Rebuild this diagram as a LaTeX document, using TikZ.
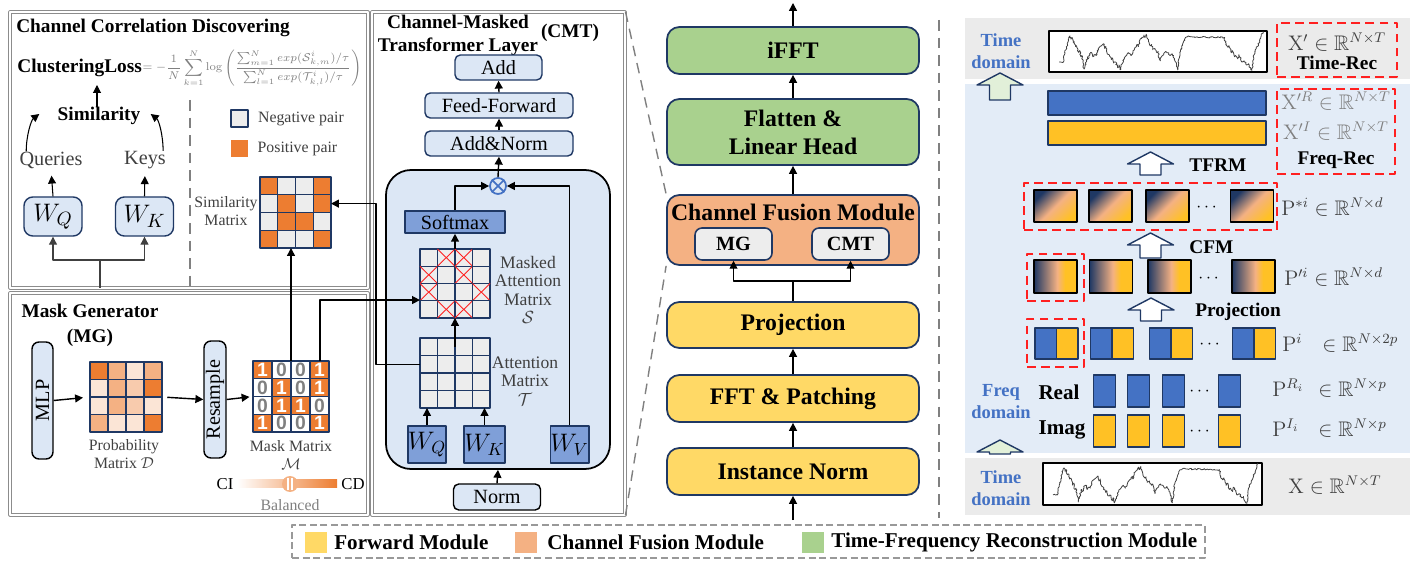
\documentclass[tikz,border=0pt]{standalone}
\usepackage[no-math]{fontspec}
\setmainfont{Liberation Serif}
\setsansfont{Liberation Sans}
\usepackage{amsmath,amssymb}
\definecolor{fmNavy}{HTML}{1F3864}
\definecolor{fmLBlue}{HTML}{DCE7F5}
\definecolor{fmDBlue}{HTML}{7F9FD8}
\definecolor{fmOrange}{HTML}{ED7D31}
\definecolor{fmPeach}{HTML}{F4B183}
\definecolor{fmPeachL}{HTML}{F8CBAD}
\definecolor{fmPeachXL}{HTML}{FBE5D6}
\definecolor{fmCell}{HTML}{EDEDED}
\definecolor{fmGreen}{HTML}{A9D18E}
\definecolor{fmYellow}{HTML}{FFD966}
\definecolor{fmBlue}{HTML}{4472C4}
\definecolor{fmGold}{HTML}{FFC125}
\definecolor{fmRed}{HTML}{FF2020}
\definecolor{fmGray}{HTML}{808080}
\definecolor{fmText}{HTML}{404040}
\definecolor{fmBandGray}{HTML}{EBEBEB}
\definecolor{fmBandBlue}{HTML}{E3ECF7}
\definecolor{fmMint}{HTML}{E2F0D9}
\definecolor{fmPanel}{HTML}{8C8C8C}
% cell colours, picked by value
\colorlet{simcell0}{fmCell}
\colorlet{simcell1}{fmOrange}
\colorlet{maskcell0}{white}
\colorlet{maskcell1}{fmOrange}
\colorlet{masktext0}{fmGray}
\colorlet{masktext1}{white}
\colorlet{probcell1}{fmPeachXL}
\colorlet{probcell2}{fmPeachL}
\colorlet{probcell3}{fmPeach}
\colorlet{probcell4}{fmOrange}
\usepackage{tikz}
\usetikzlibrary{calc,positioning,arrows.meta,decorations.pathmorphing}
\pgfdeclarehorizontalshading{patchmix}{100bp}{color(0bp)=(fmNavy); color(25bp)=(fmNavy); color(52bp)=(fmPeach); color(61bp)=(fmGold); color(100bp)=(fmGold)}
\pgfdeclarehorizontalshading{patchdiag}{100bp}{color(0bp)=(fmNavy); color(25bp)=(fmNavy); color(50bp)=(fmPeach); color(75bp)=(fmGold); color(100bp)=(fmGold)}
% one random-walk series, in a unit box
\newcommand{\tsplot}{\draw[tsline] plot coordinates {(0.05,0.78) (0.07,0.78) (0.075,0.60) (0.085,0.40) (0.09,0.30) (0.095,0.20) (0.10,0.14) (0.105,0.22) (0.11,0.18) (0.115,0.30) (0.12,0.28) (0.125,0.40) (0.13,0.38) (0.14,0.55) (0.145,0.50) (0.15,0.65) (0.155,0.62) (0.16,0.80) (0.165,0.95) (0.17,0.85) (0.18,0.65) (0.185,0.70) (0.19,0.58) (0.20,0.55) (0.205,0.65) (0.21,0.60) (0.22,0.62) (0.225,0.50) (0.235,0.42) (0.245,0.38) (0.255,0.33) (0.26,0.45) (0.265,0.40) (0.27,0.55) (0.28,0.60) (0.29,0.72) (0.295,0.68) (0.30,0.80) (0.31,0.78) (0.32,0.92) (0.325,0.85) (0.33,0.97) (0.335,0.88) (0.34,0.82) (0.35,0.70) (0.36,0.62) (0.37,0.55) (0.38,0.62) (0.39,0.50) (0.40,0.42) (0.41,0.35) (0.415,0.40) (0.42,0.25) (0.43,0.20) (0.44,0.12) (0.445,0.18) (0.45,0.10) (0.455,0.20) (0.46,0.28) (0.47,0.38) (0.475,0.35) (0.48,0.48) (0.49,0.45) (0.50,0.55) (0.505,0.52) (0.51,0.68) (0.515,0.75) (0.52,0.65) (0.53,0.60) (0.54,0.52) (0.55,0.55) (0.56,0.62) (0.57,0.58) (0.58,0.70) (0.585,0.78) (0.59,0.85) (0.595,0.97) (0.60,0.70) (0.61,0.45) (0.62,0.30) (0.63,0.18) (0.64,0.16) (0.81,0.18) (0.815,0.35) (0.825,0.42) (0.83,0.38) (0.84,0.55) (0.845,0.50) (0.855,0.65) (0.86,0.62) (0.87,0.70) (0.875,0.60) (0.885,0.68) (0.89,0.78) (0.90,0.75) (0.91,0.85) (0.92,0.82) (0.93,0.97) (0.935,0.98) (0.945,0.60) (0.955,0.45) (0.965,0.35) (0.975,0.20) (0.985,0.03)};}

\begin{document}
\begin{tikzpicture}[x=0.02cm, y=-0.02cm, line join=round,
  sz/.style 2 args={minimum width=#1*0.02cm, minimum height=#2*0.02cm},
  arr/.style={-{Triangle[length=4.5pt,width=4.5pt]}, line width=0.8pt},
  panel/.style={draw=fmPanel, line width=0.5pt, double=white, double distance=0.8pt, inner sep=0pt},
  lbox/.style={draw=fmNavy, fill=fmLBlue, line width=0.8pt, rounded corners=3pt, inner sep=0pt, font=\fontsize{11.5}{12}\selectfont},
  dbox/.style={draw=fmNavy, fill=fmDBlue, line width=0.9pt, inner sep=0pt},
  stage/.style={draw=fmNavy, line width=1pt, rounded corners=7pt, inner sep=0pt, sz={252}{47}, font=\fontsize{13.5}{16}\selectfont\bfseries, align=center},
  matbox/.style={inner sep=0pt, outer sep=0pt},
  cellbox/.style={draw=fmNavy, line width=0.8pt},
  smalllbl/.style={font=\fontsize{9}{10.5}\selectfont, text=fmText, align=center, inner sep=0pt},
  ttl/.style={font=\fontsize{11}{13}\selectfont\bfseries, inner sep=0pt, align=center},
  dom/.style={font=\fontsize{10.5}{12.5}\selectfont\bfseries, text=fmBlue, align=center, inner sep=0pt},
  reddash/.style={draw=fmRed, line width=1.3pt, dash pattern=on 5pt off 3pt, inner sep=0pt},
  patch/.style={draw=black, line width=0.8pt, inner sep=0pt},
  tsline/.style={draw=fmText, line width=0.45pt, decorate, decoration={random steps, segment length=0.7pt, amplitude=0.45pt}},
  mathlbl/.style={font=\fontsize{12}{14}\selectfont, inner sep=0pt, anchor=west, text=fmText},
  legendlbl/.style={font=\fontsize{12}{14}\selectfont\bfseries, inner sep=0pt, anchor=west},
  zoomline/.style={draw=fmGray, line width=0.8pt, dash pattern=on 6pt off 4pt}]
\useasboundingbox (0,0) rectangle (1416,570);
\pgfmathsetseed{11}

% ---------------- panels
\node[panel, sz={358}{276}] (ccdpanel) at (189,150) {};
\node[panel, sz={358}{222}] (mgpanel) at (189,404) {};
\node[panel, sz={253}{503}] (cmtpanel) at (498.5,263.5) {};

% ---------------- channel correlation discovering
\node[ttl] (ccdtitle) at (153,28) {Channel Correlation Discovering};
\node[ttl, anchor=west] (cluster) at (17,68) {ClusteringLoss};
\node[anchor=west, inner sep=0pt, text=fmGray, font=\fontsize{7.5}{9}\selectfont] (lossfml) at (cluster.east) {\resizebox{4.38cm}{!}{$\displaystyle=-\frac{1}{N}\sum_{k=1}^{N}\log\left(\frac{\sum_{m=1}^{N}exp(\mathcal{S}^{i}_{k,m})/\tau}{\sum_{l=1}^{N}exp(\mathcal{T}^{i}_{k,l})/\tau}\right)$}};
\node[ttl] (simil) at (99,116) {Similarity};
\node[smalllbl, font=\fontsize{11.5}{13}\selectfont] (queries) at (51,160) {Queries};
\node[smalllbl, font=\fontsize{11.5}{13}\selectfont] (keys) at (145,160) {Keys};
\node[lbox, sz={58}{39}, rounded corners=5pt, font=\fontsize{15}{15}\selectfont] (wq1) at (53,216.5) {$W_Q$};
\node[lbox, sz={58}{39}, rounded corners=5pt, font=\fontsize{15}{15}\selectfont] (wk1) at (144.5,216.5) {$W_K$};
\draw[arr, line width=0.6pt, shorten >=4pt] (wq1.north) -- (queries.south);
\draw[arr, line width=0.6pt, shorten >=4pt] (wk1.north) -- (keys.south);
\draw[arr, line width=0.6pt] (simil.north -| 97,0) -- (97,85);
\draw[arr, line width=0.6pt] ($(queries.north west)+(7,0)$) .. controls +(0,-16) and +(-8,6) .. ($(simil.west)+(-18,-2)$);
\draw[arr, line width=0.6pt] ($(keys.north east)+(-3,0)$) .. controls +(0,-16) and +(8,6) .. ($(simil.east)+(10,-2)$);
\coordinate (ccdin) at (100,288);
\coordinate (ccdsplit) at (100,260);
\draw[line width=0.6pt, draw=fmText] (ccdin) -- (ccdsplit);
\draw[arr, line width=0.6pt, draw=fmText] (ccdsplit) -| (wq1.south);
\draw[arr, line width=0.6pt, draw=fmText] (ccdsplit) -| (wk1.south);
\draw[draw=fmGray, line width=1.2pt, dash pattern=on 6pt off 4pt] (190,100) -- (190,288);
% pair legend
\node[draw=fmNavy, fill=fmCell, line width=0.9pt, sz={17}{17}, inner sep=0pt] (negkey) at (239.5,118.5) {};
\node[smalllbl, anchor=west] (neglbl) at ($(negkey.east)+(9,0)$) {Negative pair};
\node[fill=fmOrange, sz={17}{17}, inner sep=0pt] (poskey) at (239.5,148.5) {};
\node[smalllbl, anchor=west] (poslbl) at ($(poskey.east)+(9,0)$) {Positive pair};
% similarity matrix
\node[matbox, sz={71}{71}] (simmat) at (295.5,212.5) {};
\foreach \row [count=\r from 0] in {{1,0,0,1},{0,1,0,1},{0,1,1,0},{1,0,0,1}}
  \foreach \v [count=\c from 0] in \row
    \draw[cellbox, fill=simcell\v] ($(simmat.north west)+(\c*17.75,\r*17.75)$) rectangle +(17.75,17.75);
\node[smalllbl] (simlbl) at (226,211) {Similarity\\Matrix};
\coordinate (simin) at ($(simmat.north east)!0.375!(simmat.south east)$);

% ---------------- mask generator
\node[ttl, font=\fontsize{11}{14.2}\selectfont\bfseries] (mgtitle) at (90,325) {Mask Generator\\(MG)};
\node[lbox, draw=black, sz={21}{117}, rounded corners=4pt] (mlp) at (42.5,400.5) {\rotatebox{90}{MLP}};
\node[lbox, draw=black, sz={22}{117}, rounded corners=4pt] (resample) at (215,399.5) {\rotatebox{90}{Resample}};
\node[matbox, sz={72}{70}] (probm) at (126,397) {};
\foreach \row [count=\r from 0] in {{4,3,1,3},{1,3,2,4},{1,3,2,1},{3,1,1,4}}
  \foreach \v [count=\c from 0] in \row
    \draw[cellbox, fill=probcell\v] ($(probm.north west)+(\c*18,\r*17.5)$) rectangle +(18,17.5);
\node[smalllbl] (problbl) at (124,454) {Probability\\Matrix $\mathcal{D}$};
\node[matbox, sz={76}{71}] (maskm) at (291,396.5) {};
\foreach \row [count=\r from 0] in {{1,0,0,1},{0,1,0,1},{0,1,1,0},{1,0,0,1}}
  \foreach \v [count=\c from 0] in \row {
    \draw[cellbox, fill=maskcell\v] ($(maskm.north west)+(\c*19,\r*17.75)$) rectangle +(19,17.75);
    \node[text=masktext\v, font=\sffamily\bfseries\fontsize{11}{11}\selectfont, inner sep=0pt] at ($(maskm.north west)+(\c*19+9.5,\r*17.75+8.9)$) {\v};
  }
\node[smalllbl] (masklbl) at (291,455) {Mask Matrix\\$\mathcal{M}$};
\node[sz={100}{8}, inner sep=0pt, left color=white, right color=fmOrange] (slider) at (287,484) {};
\node[circle, fill=fmPeach, sz={16}{16}, inner sep=0pt] (knob) at (290,484) {};
\draw[white, line width=0.8pt] ($(knob.center)+(-2,-6)$) -- +(0,12) ($(knob.center)+(2,-6)$) -- +(0,12);
\node[smalllbl, text=black, font=\fontsize{9.5}{11}\selectfont] (cilbl) at (225,484) {CI};
\node[smalllbl, text=black, font=\fontsize{9.5}{11}\selectfont] (cdlbl) at (353,484) {CD};
\node[smalllbl, text=fmGray] (ballbl) at (290,505) {Balanced};
\draw[arr, shorten >=4pt] (mlp.east) -- (probm.west);
\draw[arr, shorten <=3pt] (probm.east) -- (resample.west);
\draw[arr, shorten >=2pt] (resample.east) -- (maskm.west);

% ---------------- channel-masked transformer layer
\node[ttl] (cmttitle) at (458,35) {Channel-Masked\\Transformer Layer};
\node[ttl] (cmttag) at (570,33) {(CMT)};
\node[lbox, sz={87}{25}] (add) at (498.5,67.5) {Add};
\node[lbox, sz={148}{25}] (ffwd) at (499,105.5) {Feed-Forward};
\node[lbox, sz={148}{25}] (addnorm) at (499,143.5) {Add\&Norm};
\node[draw=black, fill=fmLBlue, line width=1pt, rounded corners=0.5cm, sz={224}{299}, inner sep=0pt] (attpanel) at (498,319.5) {};
\node[circle, draw=fmBlue, fill=fmLBlue, line width=1pt, sz={16}{16}, inner sep=0pt] (otimes) at (498,186) {};
\draw[fmBlue, line width=1pt] (otimes.45) -- (otimes.225) (otimes.135) -- (otimes.315);
\node[dbox, sz={100}{22}, font=\fontsize{11.5}{12}\selectfont] (softmax) at (455,222) {Softmax};
\node[matbox, sz={70}{69}] (attS) at (455,283.5) {};
\foreach \row [count=\r from 0] in {{1,0,0,1},{0,1,0,1},{0,1,1,0},{1,0,0,1}}
  \foreach \v [count=\c from 0] in \row {
    \draw[cellbox, fill=fmCell] ($(attS.north west)+(\c*17.5,\r*17.25)$) rectangle +(17.5,17.25);
    \ifnum\v=0
      \draw[fmRed, line width=0.5pt] ($(attS.north west)+(\c*17.5,\r*17.25)$) -- +(17.5,17.25)
        ($(attS.north west)+(\c*17.5+17.5,\r*17.25)$) -- +(-17.5,17.25);
    \fi
  }
\node[smalllbl, font=\fontsize{10}{10.5}\selectfont] (attSlbl) at (528,290) {Masked\\Attention\\Matrix\\$\mathcal{S}$};
\node[matbox, sz={70}{70}] (attT) at (455,373) {};
\foreach \r in {0,...,3}
  \foreach \c in {0,...,3}
    \draw[cellbox, fill=fmCell] ($(attT.north west)+(\c*17.5,\r*17.5)$) rectangle +(17.5,17.5);
\node[smalllbl, font=\fontsize{10}{10.5}\selectfont] (attTlbl) at (525,381) {Attention\\Matrix\\$\mathcal{T}$};
\node[dbox, sz={37}{37}, font=\fontsize{14}{14}\selectfont] (wq2) at (427,444.5) {$W_Q$};
\node[dbox, sz={37}{37}, font=\fontsize{14}{14}\selectfont] (wk2) at (484.5,444.5) {$W_K$};
\node[dbox, sz={37}{37}, font=\fontsize{14}{14}\selectfont] (wv) at (569.5,444.5) {$W_V$};
\node[lbox, draw=black, sz={87}{26}] (norm) at (497,497) {Norm};
\draw[arr] (wq2.north) -- (wq2.north |- attT.south);
\draw[arr] (wk2.north) -- (wk2.north |- attT.south);
\draw[arr] ($(attT.north)+(0,9)$) -- (attS.south);
\draw[arr] (attS.north) -- (softmax.south);
\draw[arr] (softmax.north) |- (otimes.west);
\draw[arr] (wv.north) |- (otimes.east);
\draw[arr] (otimes.north) -- (addnorm.south);
\draw[arr] (addnorm.north) -- (ffwd.south);
\draw[arr] (ffwd.north) -- (add.south);
\draw[arr] (norm.north) -- (attpanel.south);
% links between the three panels
\draw[arr] ($(attT.north west)!0.375!(attT.south west)$) -| ($(simin)+(45,0)$) -- (simin);
\draw[arr] (maskm.north) -- (maskm.north |- simmat.south);
\draw[arr] ($(maskm.north west)!0.88!(maskm.north east)$) |- ($(attS.north west)!0.74!(attS.south west)$);

% ---------------- model pipeline
\node[stage, fill=fmGreen] (ifft) at (793,50.5) {iFFT};
\node[stage, fill=fmGreen, sz={252}{66}] (flat) at (793,132) {Flatten \&\\Linear Head};
\node[stage, fill=fmPeach, sz={252}{70}] (cfm) at (793,230) {};
\node[ttl, font=\fontsize{13.5}{16}\selectfont\bfseries] (cfmtitle) at (793,212) {Channel Fusion Module};
\node[draw=fmNavy, fill=fmCell, line width=0.9pt, rounded corners=4pt, sz={77}{32}, inner sep=0pt, font=\fontsize{11.5}{14}\selectfont\bfseries] (mg) at (733.5,244) {MG};
\node[draw=fmNavy, fill=fmCell, line width=0.9pt, rounded corners=4pt, sz={77}{32}, inner sep=0pt, font=\fontsize{11.5}{14}\selectfont\bfseries] (cmt) at (850.5,244) {CMT};
\node[stage, fill=fmYellow, sz={252}{46}] (proj) at (793,325) {Projection};
\node[stage, fill=fmYellow] (fftp) at (793,398.5) {FFT \& Patching};
\node[stage, fill=fmYellow] (inorm) at (793,471.5) {Instance Norm};
\coordinate (modin) at (793,520);
\coordinate (modout) at (793,3);
\coordinate (cfmsplit) at (793,281);
\draw[arr] (modin) -- (inorm);
\draw[arr] (inorm) -- (fftp);
\draw[arr] (fftp) -- (proj);
\draw[line width=0.8pt] (proj) -- (cfmsplit);
\draw[arr, line width=0.6pt] (cfmsplit) -| (mg);
\draw[arr, line width=0.6pt] (cfmsplit) -| (cmt);
\draw[arr] (cfm) -- (flat);
\draw[arr] (flat) -- (ifft);
\draw[arr] (ifft) -- (modout);
\draw[zoomline] (cmtpanel.north east) -- (cfm.north west);
\draw[zoomline] (cmtpanel.south east) -- (cfm.south west);
\draw[draw=fmGray, line width=1.2pt, dash pattern=on 6pt off 4pt] (939,20) -- (939,518);

% ---------------- time / frequency view
\fill[fmBandGray] (965,18) rectangle (1410,79);
\fill[fmBandBlue] (965,84) rectangle (1410,453);
\fill[fmBandGray] (965,458) rectangle (1410,515);
\node[dom] (toplbl) at (1001,51) {Time\\domain};
\node[dom] (freqlbl) at (1001,402) {Freq\\domain};
\node[dom] (botlbl) at (1001,488) {Time\\domain};
\foreach \bx/\tip/\base/\col in {1000/73/100/fmMint, 1000/440/454/fmMint, 1150.5/152/175/white, 1150.5/233/258/white, 1151/298/321/white}
  \draw[fmNavy, line width=0.8pt, fill=\col] (\bx,\tip) -- (\bx+23,\tip+12) -- (\bx+10.5,\tip+12) -- (\bx+10.5,\base)
    -- (\bx-10.5,\base) -- (\bx-10.5,\tip+12) -- (\bx-23,\tip+12) -- cycle;
% series
\node[draw=black, line width=1pt, sz={218}{41}, inner sep=0pt, fill=white] (tsout) at (1158,51.5) {};
\begin{scope}[shift={(tsout.north west)}, x=4.36cm, y=-0.82cm] \tsplot \end{scope}
\node[draw=black, line width=1pt, sz={219}{42}, inner sep=0pt, fill=white] (tsin) at (1152.5,484) {};
\begin{scope}[shift={(tsin.north west)}, x=4.38cm, y=-0.84cm] \tsplot \end{scope}
\node[reddash, sz={120}{54}] (timerec) at (1337,50) {};
\node[mathlbl, anchor=center] (xout) at (1337,42) {$\mathrm{X}'\in\mathbb{R}^{N\times T}$};
\node[ttl] (timereclbl) at (1337,63) {Time-Rec};
\node[mathlbl, anchor=center] (xin) at (1335,485) {$\mathrm{X}\in\mathbb{R}^{N\times T}$};
% reconstructed spectra
\node[draw=fmNavy, fill=fmBlue, line width=0.8pt, sz={218}{24}, inner sep=0pt] (barre) at (1157,103) {};
\node[draw=fmNavy, fill=fmGold, line width=0.8pt, sz={218}{24}, inner sep=0pt] (barim) at (1157,133) {};
\node[reddash, sz={118}{85}] (freqrec) at (1336,131.5) {};
\node[mathlbl, anchor=center, text=fmGray] (xre) at (1336,101) {$\mathrm{X}'^{R}\in\mathbb{R}^{N\times T}$};
\node[mathlbl, anchor=center, text=fmGray] (xim) at (1336,131) {$\mathrm{X}'^{I}\in\mathbb{R}^{N\times T}$};
\node[ttl] (freqreclbl) at (1336,160) {Freq-Rec};
\node[ttl, anchor=west] (tfrmlbl) at (1189,165) {TFRM};
% fused patches
\node[reddash, sz={253}{47}] (pstarbox) at (1150.5,206.5) {};
\foreach \xc [count=\i] in {1055.5,1110.5,1167.5,1252}
  \node[patch, sz={43}{32}, shade, shading=patchdiag, shading angle=-45] (pstar\i) at (\xc,206) {};
\node[inner sep=0pt] (pstardots) at (1208,208) {$\cdots$};
\node[mathlbl] (pstarlbl) at (1281,207) {$\mathrm{P}^{*i}\in\mathbb{R}^{N\times d}$};
\node[ttl, anchor=west] (cfmlbl) at (1189,247) {CFM};
% projected patches
\foreach \xc [count=\i] in {1055.5,1111,1169.5,1253.5}
  \node[patch, sz={43}{33}, shade, shading=patchmix] (pdash\i) at (\xc,276.5) {};
\node[reddash, sz={57}{47}] (pdashbox) at (1055.5,277.5) {};
\node[inner sep=0pt] (pdashdots) at (1210,279) {$\cdots$};
\node[mathlbl] (pdashlbl) at (1284,277) {$\mathrm{P}'^{i}\in\mathbb{R}^{N\times d}$};
\node[ttl, anchor=west] (projlbl) at (1195,312) {Projection};
% raw patches
\foreach \xc [count=\i] in {1056.5,1112,1171,1254} {
  \node[matbox, sz={43}{31}] (pcat\i) at (\xc,343.5) {};
  \draw[cellbox, fill=fmBlue] (pcat\i.north west) rectangle (pcat\i.south);
  \draw[cellbox, fill=fmGold] (pcat\i.north) rectangle (pcat\i.south east);
}
\node[reddash, sz={57}{48}] (pcatbox) at (1055.5,343) {};
\node[inner sep=0pt] (pcatdots) at (1211,345) {$\cdots$};
\node[mathlbl] (pcatlbl) at (1282,343) {$\mathrm{P}^{i}$};
\node[mathlbl] (pcatset) at (1322,343) {$\in\mathbb{R}^{N\times 2p}$};
\node[ttl, font=\fontsize{12}{14}\selectfont\bfseries] (reallbl) at (1059,392) {Real};
\node[ttl, font=\fontsize{12}{14}\selectfont\bfseries] (imaglbl) at (1062,430) {Imag};
\foreach \xc [count=\i] in {1104.5,1138.5,1173.5,1229.5} {
  \node[draw=fmNavy, fill=fmBlue, line width=0.9pt, sz={22}{32}, inner sep=0pt] (pre\i) at (\xc,391) {};
  \node[draw=fmNavy, fill=fmGold, line width=0.9pt, sz={22}{32}, inner sep=0pt] (pim\i) at (\xc,431) {};
}
\node[inner sep=0pt] (predots) at (1201,392) {$\cdots$};
\node[inner sep=0pt] (pimdots) at (1201,432) {$\cdots$};
\node[mathlbl] (prelbl) at (1272,388) {$\mathrm{P}^{R_i}$};
\node[mathlbl] (preset) at (1318,388) {$\in\mathbb{R}^{N\times p}$};
\node[mathlbl] (pimlbl) at (1272,428) {$\mathrm{P}^{I_i}$};
\node[mathlbl] (pimset) at (1318,428) {$\in\mathbb{R}^{N\times p}$};

% ---------------- legend
\node[draw=fmGray!80, dash pattern=on 4pt off 2pt, line width=0.8pt, sz={913}{33}, inner sep=0pt] (legend) at (748.5,541.5) {};
\node[fill=fmYellow, sz={22}{21}, inner sep=0pt] (keyfwd) at (316,542.5) {};
\node[legendlbl] (lblfwd) at (334,542) {Forward Module};
\node[fill=fmPeach, sz={22}{21}, inner sep=0pt] (keycfm) at (526,542.5) {};
\node[legendlbl] (lblcfm) at (547,542) {Channel Fusion Module};
\node[fill=fmGreen, sz={22}{21}, inner sep=0pt] (keytfr) at (813,542.5) {};
\node[legendlbl] (lbltfr) at (831,542) {Time-Frequency Reconstruction Module};
\end{tikzpicture}
\end{document}
